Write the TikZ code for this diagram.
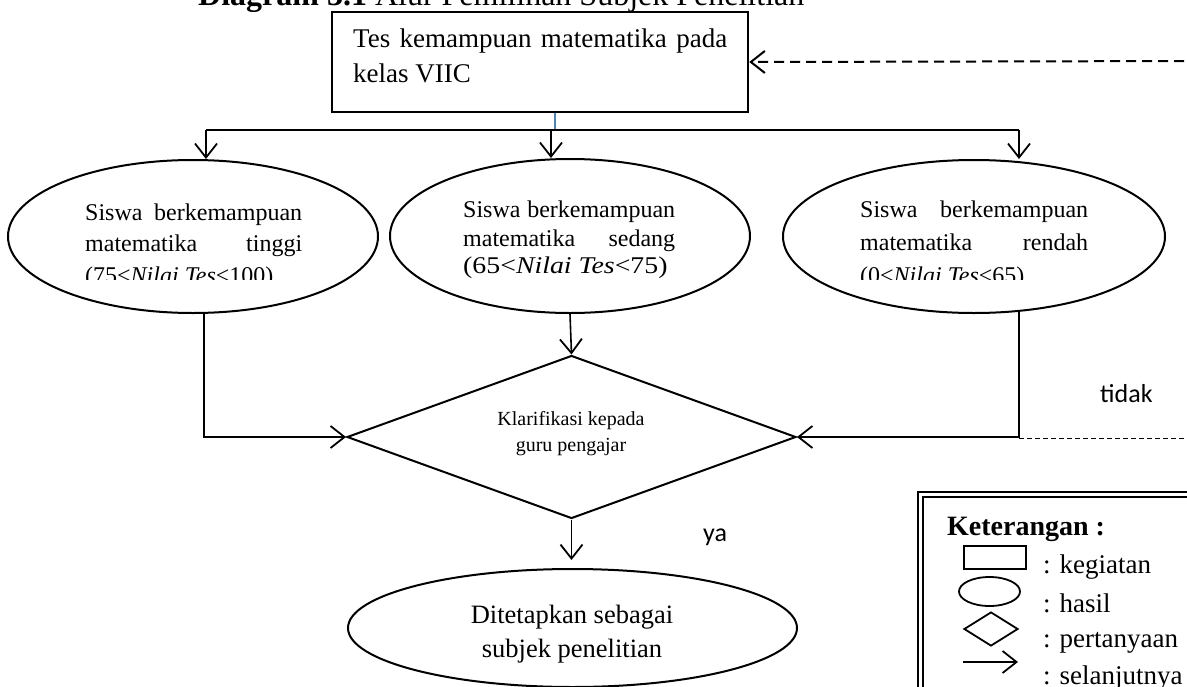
\documentclass[tikz,border=0pt]{standalone}
\usepackage{fontspec}
\setmainfont{Liberation Serif}
\newfontfamily\sansf{Carlito}
\usetikzlibrary{shapes.geometric,arrows.meta,calc}
\newcommand{\tfont}{\fontsize{27}{33}\selectfont}
\newcommand{\ffont}{\fontsize{26.5}{31}\selectfont}
\newcommand{\efont}{\fontsize{24}{28}\selectfont}
\newcommand{\dfont}{\fontsize{20}{25}\selectfont}
\begin{document}
\begin{tikzpicture}[x=1pt,y=-1pt,
  shp/.style={draw, line width=2pt, inner sep=0pt},
  el/.style={shp, ellipse},
  arr/.style={line width=1.6pt, -{Straight Barb[length=14pt,width=22pt,line width=1.8pt]}},
  con/.style={line width=1.6pt},
  txt/.style={inner sep=0pt, anchor=base west},
  ctxt/.style={inner sep=0pt, anchor=base},
]
\useasboundingbox (0,0) rectangle (1187,686);
\clip (0,0) rectangle (1187,686);

% title
\node[txt, font=\fontsize{32}{36}\selectfont] (title) at (198,5) {\textbf{Diagram 3.1} Alur Pemilihan Subjek Penelitian};

% top box
\node[shp, line width=2.5pt, minimum width=416pt, minimum height=100pt] (tes) at (540,62) {};
\node[txt, font=\tfont] (t1) at (353,47) {\makebox[374pt][s]{Tes kemampuan matematika pada}};
\node[txt, font=\tfont] (t2) at (353,82) {kelas VIIC};

% ellipses
\node[el, minimum width=370pt, minimum height=153pt] (el1) at (193,236.5) {};
\node[el, minimum width=360pt, minimum height=154pt] (el2) at (570,236) {};
\node[el, minimum width=382pt, minimum height=153pt] (el3) at (974,236.5) {};

\node[txt, font=\efont] (e1a) at (85,220) {\makebox[217pt][s]{Siswa berkemampuan}};
\node[txt, font=\efont] (e1b) at (85,251) {\makebox[217pt][s]{matematika tinggi}};
\begin{scope}
  \clip (60,240) rectangle (340,279);
  \node[txt, font=\efont] (e1c) at (85,283) {(75<\textit{Nilai Tes}<100)};
\end{scope}

\node[txt, font=\efont] (e2a) at (463,217) {\makebox[212pt][s]{Siswa berkemampuan}};
\node[txt, font=\efont] (e2b) at (463,246) {\makebox[212pt][s]{matematika sedang}};
\node[txt, font=\efont] (e2c) at (463,273) {\scalebox{1.16}[1]{(65<\textit{Nilai Tes}<75)}};

\node[txt, font=\efont] (e3a) at (860,217) {\makebox[228pt][s]{Siswa berkemampuan}};
\node[txt, font=\efont] (e3b) at (860,250) {\makebox[228pt][s]{matematika rendah}};
\begin{scope}
  \clip (840,240) rectangle (1120,279);
  \node[txt, font=\efont] (e3c) at (860,283) {(0<\textit{Nilai Tes}<65)};
\end{scope}

% distribution lines
\coordinate (jM) at (555,130);
\coordinate (jL) at (206,130);
\coordinate (jC) at (551,130);
\coordinate (jR) at (1019,130);
\draw[line width=1.5pt, color={rgb,255:red,79;green,129;blue,189}] (tes.south -| jM) -- (jM);
\draw[con] (jL) -- (jR);
\draw[arr] (jL) -- (jL |- el1.north);
\draw[arr] (jC) -- (jC |- el2.north);
\draw[arr] (jR) -- (jR |- el3.north);

% diamond
\node[shp, diamond, minimum width=449pt, minimum height=163pt] (dia) at (571.5,437) {};
\node[ctxt, font=\dfont] (d1) at (571,425) {Klarifikasi kepada};
\node[ctxt, font=\dfont] (d2) at (571,451) {guru pengajar};

\coordinate (sL) at (204,312.7);
\coordinate (sR) at (1019,311);
\draw[arr] (sL) |- (dia.west);
\draw[arr] (sR) |- (dia.east);
\draw[arr] (el2.south) -- (dia.north);

% no branch
\coordinate (cR) at (1019,438);
\coordinate (eR) at (1200,438);
\coordinate (eT) at (1200,61);
\draw[line width=1pt, dash pattern=on 5pt off 3pt] (cR) -- (eR);
\draw[line width=2pt, dash pattern=on 10pt off 6pt, -{Straight Barb[length=14pt,width=22pt,line width=2pt]}] (eT) -- (tes.east);
\node[txt, font=\sansf\fontsize{26}{30}\selectfont] (tidak) at (1100,402) {tidak};

% yes branch
\node[el, minimum width=449pt, minimum height=118pt] (el4) at (572.5,628) {};
\node[ctxt, font=\ffont] (f1) at (572,623) {Ditetapkan sebagai};
\node[ctxt, font=\ffont] (f2) at (572,657) {subjek penelitian};
\draw[arr, shorten >=8pt] (dia.south) -- (dia.south |- el4.north);
\node[txt, font=\sansf\fontsize{26}{30}\selectfont] (ya) at (703,541) {ya};

% legend
\draw[line width=2pt] (918,492) rectangle (1300,800);
\draw[line width=1.3pt] (923,497) rectangle (1295,795);
\node[txt, font=\fontsize{28}{33}\selectfont\bfseries] (ket) at (947,535) {Keterangan :};
\node[shp, line width=1.8pt, minimum width=62pt, minimum height=23pt] (lrect) at (995,557.5) {};
\node[el, line width=1.8pt, minimum width=61pt, minimum height=29pt] (lell) at (989.5,591.5) {};
\node[shp, diamond, line width=1.8pt, minimum width=54pt, minimum height=34pt] (ldia) at (991,629) {};
\coordinate (la1) at (963,662);
\coordinate (la2) at (1018,662);
\draw[arr] (la1) -- (la2);
\node[txt, font=\tfont] (k1) at (1043,573) {: kegiatan};
\node[txt, font=\tfont] (k2) at (1043,612) {: hasil};
\node[txt, font=\tfont] (k3) at (1043,647) {: pertanyaan};
\node[txt, font=\tfont] (k4) at (1043,684) {: selanjutnya};
\end{tikzpicture}
\end{document}
